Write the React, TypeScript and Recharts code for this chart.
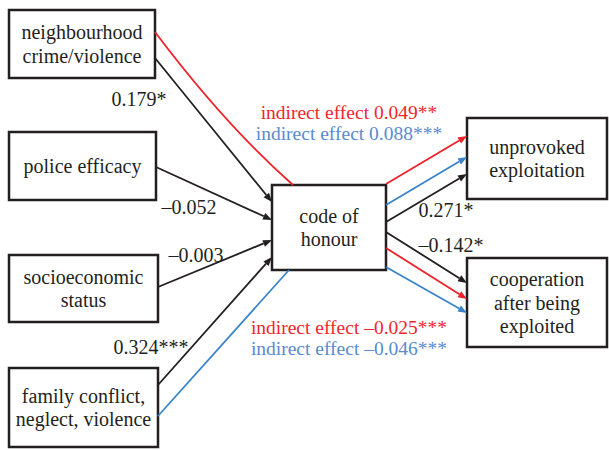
import React from "react";
import {
  ScatterChart,
  Scatter,
  XAxis,
  YAxis,
  ReferenceArea,
} from "recharts";

// Path model: predictors -> code of honour -> outcomes
const nodeLabels: string[][] = [
  ["neighbourhood", "crime/violence"],
  ["police efficacy"],
  ["socioeconomic", "status"],
  ["family conflict,", "neglect, violence"],
  ["code of", "honour"],
  ["unprovoked", "exploitation"],
  ["cooperation", "after being", "exploited"],
];

const pathCoefficients = ["0.179*", "–0.052", "–0.003", "0.324***", "0.271*", "–0.142*"];

const indirectEffects = ["0.049**", "0.088***", "–0.025***", "–0.046***"];

// layout in diagram units (x 0..609, y 0..450 downwards)
const nodeBoxes = [
  [9, 155, 10, 78],
  [9, 156, 132, 200],
  [9, 158, 255, 322],
  [9, 158, 368, 447],
  [272, 386, 185, 270],
  [467, 607, 118, 199],
  [467, 607, 258, 347],
];

const RED = "#ee2229";
const BLUE = "#3a84c9";
const INK = "#231f20";
const RED_TEXT = "#f0262d";
const BLUE_TEXT = "#5a8ad0";

type Edge = { pts: number[][]; color: string; arrow: boolean };

const edges: Edge[] = [
  { pts: [[155, 32], [225, 125], [293, 185]], color: RED, arrow: false },
  { pts: [[155, 58], [272, 202]], color: INK, arrow: true },
  { pts: [[156, 167], [272, 220]], color: INK, arrow: true },
  { pts: [[158, 287], [272, 240]], color: INK, arrow: true },
  { pts: [[158, 385], [272, 257]], color: INK, arrow: true },
  { pts: [[158, 416], [228, 338], [289, 270]], color: BLUE, arrow: false },
  { pts: [[386, 184], [467, 136]], color: RED, arrow: true },
  { pts: [[386, 205], [467, 157]], color: BLUE, arrow: true },
  { pts: [[386, 222], [467, 174]], color: INK, arrow: true },
  { pts: [[386, 232], [467, 283]], color: INK, arrow: true },
  { pts: [[386, 248], [467, 299]], color: RED, arrow: true },
  { pts: [[386, 267], [467, 313]], color: BLUE, arrow: true },
];

const coefAnchors = [
  [139, 99],
  [189, 207],
  [196, 255],
  [151, 347],
  [446, 210],
  [451, 245],
];

const indirectAnchors = [
  [349, 112, RED_TEXT],
  [349, 133, BLUE_TEXT],
  [349, 327, RED_TEXT],
  [349, 348, BLUE_TEXT],
];

const FONT = "Liberation Serif, Times New Roman, serif";
const FS = 20;

const renderEdge = (color: string, arrow: boolean) => (props: any) => {
  const p = props.points as { x: number; y: number }[];
  if (!p || p.length < 2) return <g />;
  if (p.length === 3) {
    const d = `M${p[0].x},${p[0].y} Q${p[1].x},${p[1].y} ${p[2].x},${p[2].y}`;
    return <path d={d} fill="none" stroke={color} strokeWidth={1.8} />;
  }
  const a = p[0];
  const b = p[p.length - 1];
  const len = Math.hypot(b.x - a.x, b.y - a.y);
  const ux = (b.x - a.x) / len;
  const uy = (b.y - a.y) / len;
  const head = 9;
  const half = 3.5;
  const bx = b.x - ux * head;
  const by = b.y - uy * head;
  return (
    <g>
      <line x1={a.x} y1={a.y} x2={arrow ? bx : b.x} y2={arrow ? by : b.y} stroke={color} strokeWidth={1.8} />
      {arrow && (
        <polygon
          points={`${b.x},${b.y} ${bx - uy * half},${by + ux * half} ${bx + uy * half},${by - ux * half}`}
          fill={color}
        />
      )}
    </g>
  );
};

const hidden = () => <g />;

const textShape = (props: any) => {
  const { cx, cy, payload } = props;
  const size = payload.size || FS;
  return (
    <text
      x={cx}
      y={cy + size * 0.35}
      textAnchor="middle"
      style={{ fontFamily: FONT, fontSize: size }}
      fill={payload.color}
    >
      {payload.text}
    </text>
  );
};

const boxLabel = (lines: string[]) => (props: any) => {
  const vb = props.viewBox;
  const cx = vb.x + vb.width / 2;
  const cy = vb.y + vb.height / 2;
  const step = 23.5;
  const top = cy - ((lines.length - 1) * step) / 2;
  return (
    <text textAnchor="middle" style={{ fontFamily: FONT, fontSize: FS }} fill={INK}>
      {lines.map((l, i) => (
        <tspan key={i} x={cx} y={top + i * step + 7}>
          {l}
        </tspan>
      ))}
    </text>
  );
};

export default function App() {
  const coefData = pathCoefficients.map((t, i) => ({
    x: coefAnchors[i][0],
    y: coefAnchors[i][1],
    text: t,
    color: INK,
  }));
  const indirectData = indirectEffects.map((v, i) => ({
    x: indirectAnchors[i][0] as number,
    y: indirectAnchors[i][1] as number,
    text: `indirect effect ${v}`,
    color: indirectAnchors[i][2] as string,
    size: 19.5,
  }));

  return (
    <div style={{ position: "absolute", left: 0, top: 0, width: 609, height: 450, background: "#fff" }}>
      <ScatterChart width={609} height={450} margin={{ top: 0, right: 0, bottom: 0, left: 0 }}>
        <XAxis type="number" dataKey="x" domain={[0, 609]} hide />
        <YAxis type="number" dataKey="y" domain={[0, 450]} reversed hide />
        {nodeBoxes.map((b, i) => (
          <ReferenceArea
            key={`box-${i}`}
            x1={b[0]}
            x2={b[1]}
            y1={b[2]}
            y2={b[3]}
            fill="#fff"
            fillOpacity={1}
            stroke={INK}
            strokeWidth={2.5}
            ifOverflow="visible"
            label={{ content: boxLabel(nodeLabels[i]) }}
          />
        ))}
        {edges.map((e, i) => (
          <Scatter
            key={`edge-${i}`}
            data={e.pts.map(([x, y]) => ({ x, y }))}
            line={renderEdge(e.color, e.arrow)}
            shape={hidden}
            isAnimationActive={false}
          />
        ))}
        <Scatter data={coefData} shape={textShape} isAnimationActive={false} />
        <Scatter data={indirectData} shape={textShape} isAnimationActive={false} />
      </ScatterChart>
    </div>
  );
}
